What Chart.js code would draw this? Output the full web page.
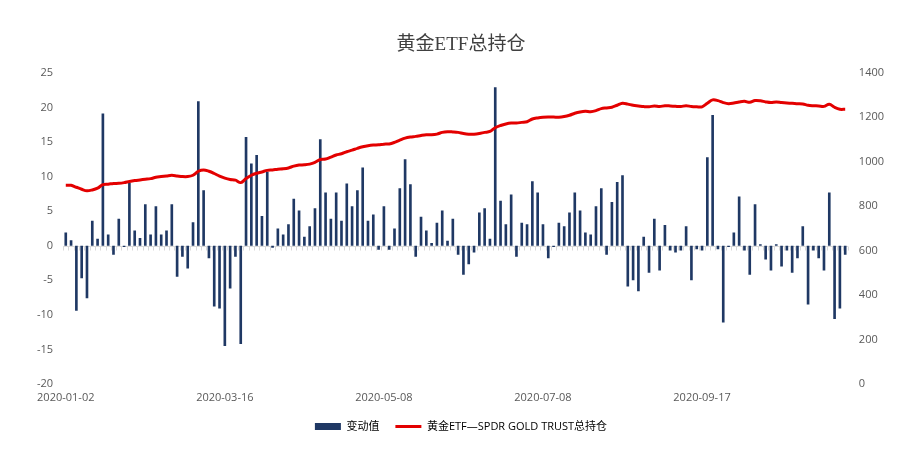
<!DOCTYPE html>
<html>
<head>
<meta charset="utf-8">
<script src="https://cdn.jsdelivr.net/npm/chart.js@4.4.0/dist/chart.umd.min.js"></script>
<style>
  html, body { margin: 0; padding: 0; background: #fff; }
  #wrap { width: 924px; height: 470px; }
</style>
</head>
<body>
<div id="wrap"><canvas id="goldChart"></canvas></div>
<script>
// trading dates (category axis)
const dates = [
  "2020-01-02", "2020-01-03", "2020-01-06", "2020-01-07", "2020-01-08", "2020-01-10", "2020-01-13", "2020-01-15",
  "2020-01-16", "2020-01-21", "2020-01-22", "2020-01-24", "2020-01-27", "2020-01-29", "2020-01-30", "2020-02-03",
  "2020-02-04", "2020-02-06", "2020-02-07", "2020-02-11", "2020-02-12", "2020-02-14", "2020-02-18", "2020-02-20",
  "2020-02-21", "2020-02-24", "2020-02-26", "2020-02-28", "2020-03-04", "2020-03-11",
  "2020-03-16", "2020-03-17", "2020-03-18", "2020-03-19", "2020-03-20", "2020-03-23", "2020-03-24", "2020-03-25",
  "2020-03-26", "2020-03-27", "2020-03-30", "2020-03-31", "2020-04-01", "2020-04-02", "2020-04-06", "2020-04-08",
  "2020-04-09", "2020-04-14", "2020-04-15", "2020-04-16", "2020-04-20", "2020-04-21", "2020-04-22", "2020-04-24",
  "2020-04-27", "2020-04-29", "2020-04-30", "2020-05-01", "2020-05-05", "2020-05-06",
  "2020-05-08", "2020-05-11", "2020-05-12", "2020-05-14", "2020-05-15", "2020-05-18", "2020-05-19", "2020-05-21",
  "2020-05-22", "2020-05-26", "2020-05-27", "2020-05-29", "2020-06-01", "2020-06-02", "2020-06-04", "2020-06-05",
  "2020-06-08", "2020-06-10", "2020-06-11", "2020-06-15", "2020-06-16", "2020-06-18", "2020-06-19", "2020-06-22",
  "2020-06-24", "2020-06-25", "2020-06-29", "2020-07-01", "2020-07-02", "2020-07-06",
  "2020-07-08", "2020-07-10", "2020-07-13", "2020-07-15", "2020-07-17", "2020-07-20", "2020-07-22", "2020-07-24",
  "2020-07-27", "2020-07-28", "2020-07-30", "2020-08-03", "2020-08-04", "2020-08-06", "2020-08-07", "2020-08-10",
  "2020-08-12", "2020-08-13", "2020-08-17", "2020-08-18", "2020-08-20", "2020-08-24", "2020-08-25", "2020-08-27",
  "2020-08-31", "2020-09-01", "2020-09-03", "2020-09-08", "2020-09-10", "2020-09-14",
  "2020-09-17", "2020-09-18", "2020-09-21", "2020-09-22", "2020-09-24", "2020-09-25", "2020-09-28", "2020-09-30",
  "2020-10-01", "2020-10-05", "2020-10-06", "2020-10-08", "2020-10-09", "2020-10-12", "2020-10-14", "2020-10-15",
  "2020-10-19", "2020-10-20", "2020-10-22", "2020-10-23", "2020-10-26", "2020-10-28", "2020-10-29", "2020-11-02",
  "2020-11-03", "2020-11-05", "2020-11-06", "2020-11-09"
];

// 变动值 (left axis)
const changes = [
  1.9, 0.8, -9.4, -4.7, -7.6, 3.6, 1.0, 19.1, 1.6, -1.3, 3.9, -0.2, 9.1, 2.2, 1.1, 6.0, 1.6, 5.7, 1.6, 2.2, 6.0, -4.5, -1.6, -3.3,
  3.4, 20.9, 8.0, -1.8, -8.8, -9.1, -14.5, -6.2, -1.6, -14.2, 15.7, 11.9, 13.1, 4.3, 10.7, -0.3, 2.5, 1.6, 3.1, 6.8, 5.1, 1.3, 2.8, 5.4, 15.4,
  7.7, 3.9, 7.7, 3.6, 9.0, 5.7, 8.0, 11.3, 3.6, 4.5, -0.6, 5.7, -0.6, 2.5, 8.3, 12.5, 8.9, -1.6, 4.2, 2.2, 0.4, 3.3, 5.1, 0.7, 3.9,
  -1.3, -4.2, -2.7, -1.0, 4.8, 5.4, 1.0, 22.9, 6.5, 3.1, 7.4, -1.6, 3.3, 3.1, 9.3, 7.7, 3.1, -1.8, -0.2, 3.3, 2.8, 4.8, 7.7, 5.1, 1.9,
  1.6, 5.7, 8.3, -1.3, 6.3, 9.2, 10.2, -5.9, -5.0, -6.6, 1.3, -3.9, 3.9, -3.6, 3.0, -0.7, -1.0, -0.7, 2.8, -5.0, -0.5, -0.7, 12.8, 18.9, -0.5,
  -11.1, -0.2, 1.9, 7.1, -0.7, -4.2, 6.0, 0.2, -2.0, -3.6, 0.2, -3.0, -0.7, -3.9, -1.8, 2.8, -8.5, -0.7, -1.8, -3.6, 7.7, -10.6, -9.1, -1.3
];

// 黄金ETF—SPDR GOLD TRUST总持仓 (right axis)
const holdings = [
  894, 894, 885, 876, 869, 873, 881, 897, 899, 902, 903, 906, 911, 915, 918, 921, 924, 930, 933, 936, 939, 936, 933, 933,
  939, 957, 963, 957, 947, 935, 926, 920, 917, 906, 924, 939, 948, 954, 961, 963, 966, 968, 972, 980, 985, 986, 989, 997, 1010,
  1012, 1021, 1030, 1036, 1045, 1052, 1060, 1067, 1072, 1075, 1076, 1079, 1080, 1087, 1097, 1106, 1111, 1114, 1118, 1121, 1121, 1124, 1132, 1135, 1134,
  1132, 1127, 1124, 1124, 1127, 1132, 1136, 1153, 1163, 1170, 1174, 1174, 1177, 1180, 1192, 1197, 1200, 1201, 1201, 1200, 1203, 1209, 1218, 1224, 1227,
  1225, 1230, 1239, 1242, 1245, 1254, 1263, 1259, 1254, 1251, 1248, 1247, 1251, 1248, 1252, 1251, 1249, 1248, 1252, 1248, 1247, 1247, 1263, 1278, 1275,
  1266, 1261, 1264, 1269, 1272, 1267, 1275, 1274, 1269, 1266, 1269, 1266, 1264, 1263, 1261, 1260, 1254, 1252, 1251, 1249, 1259, 1245, 1236, 1236
];

const seriesNames = ["变动值", "黄金ETF—SPDR GOLD TRUST总持仓"];
const labelEvery = 30;

const barColor = "#1f3864";
const lineColor = "#e30000";
const textColor = "#595959";

Chart.defaults.font.family = "'Open Sans', 'Noto Sans CJK SC', sans-serif";
Chart.defaults.color = textColor;

// zero line with small category ticks, like the original axis
const zeroAxis = {
  id: "zeroAxis",
  beforeDatasetsDraw(chart) {
    const { ctx, chartArea, scales } = chart;
    const x = scales.x, y = scales.y;
    const y0 = Math.round(y.getPixelForValue(0)) + 0.5;
    const half = (x.getPixelForValue(1) - x.getPixelForValue(0)) / 2;
    ctx.save();
    ctx.strokeStyle = "#d9d9d9";
    ctx.lineWidth = 1;
    ctx.beginPath();
    ctx.moveTo(chartArea.left, y0);
    ctx.lineTo(chartArea.right, y0);
    for (let i = 0; i <= dates.length; i++) {
      const px = Math.round(x.getPixelForValue(i) - half) + 0.5;
      ctx.moveTo(px, y0);
      ctx.lineTo(px, y0 + 4);
    }
    ctx.stroke();
    ctx.restore();
  }
};

const ctx = document.getElementById("goldChart").getContext("2d");
const goldChart = new Chart(ctx, {
  type: "bar",
  data: {
    labels: dates,
    datasets: [
      {
        type: "bar",
        label: seriesNames[0],
        data: changes,
        backgroundColor: barColor,
        barPercentage: 0.5,
        categoryPercentage: 1.0,
        yAxisID: "y",
        order: 1
      },
      {
        type: "line",
        label: seriesNames[1],
        data: holdings,
        borderColor: lineColor,
        borderWidth: 3,
        pointRadius: 0,
        tension: 0.35,
        fill: false,
        yAxisID: "y1",
        order: 0
      }
    ]
  },
  options: {
    responsive: true,
    maintainAspectRatio: false,
    animation: false,
    layout: { autoPadding: false, padding: { top: 34, left: 27, right: 29, bottom: 28 } },
    plugins: {
      title: {
        display: true,
        text: "黄金ETF总持仓",
        color: "#404040",
        font: { family: "'Liberation Serif', 'Noto Sans CJK SC', serif", size: 19, weight: "normal" },
        padding: { top: 0, bottom: 16 }
      },
      legend: {
        position: "bottom",
        labels: {
          usePointStyle: true,
          pointStyleWidth: 26,
          boxHeight: 7,
          padding: 16,
          color: textColor,
          font: { size: 11 },
          generateLabels: () => [
            { text: seriesNames[0], pointStyle: "rect", fillStyle: barColor, strokeStyle: barColor, lineWidth: 0, datasetIndex: 0 },
            { text: seriesNames[1], pointStyle: "line", fillStyle: lineColor, strokeStyle: lineColor, lineWidth: 3, datasetIndex: 1 }
          ]
        }
      },
      tooltip: { enabled: false }
    },
    scales: {
      x: {
        grid: { display: false, drawTicks: false },
        border: { display: false },
        ticks: {
          autoSkip: false,
          maxRotation: 0,
          padding: 7,
          font: { size: 11 },
          callback: (value, index) => (index % labelEvery === 0 ? dates[index] : "")
        },
        afterFit: (scale) => { scale.height = 21; }
      },
      y: {
        position: "left",
        min: -20,
        max: 25,
        grid: { display: false, drawTicks: false },
        border: { display: false },
        ticks: { stepSize: 5, padding: 10, font: { size: 11 } }
      },
      y1: {
        position: "right",
        min: 0,
        max: 1400,
        grid: { display: false, drawTicks: false },
        border: { display: false },
        ticks: { stepSize: 200, padding: 11, font: { size: 11 }, callback: (value) => String(value) }
      }
    }
  },
  plugins: [zeroAxis]
});
</script>
</body>
</html>
